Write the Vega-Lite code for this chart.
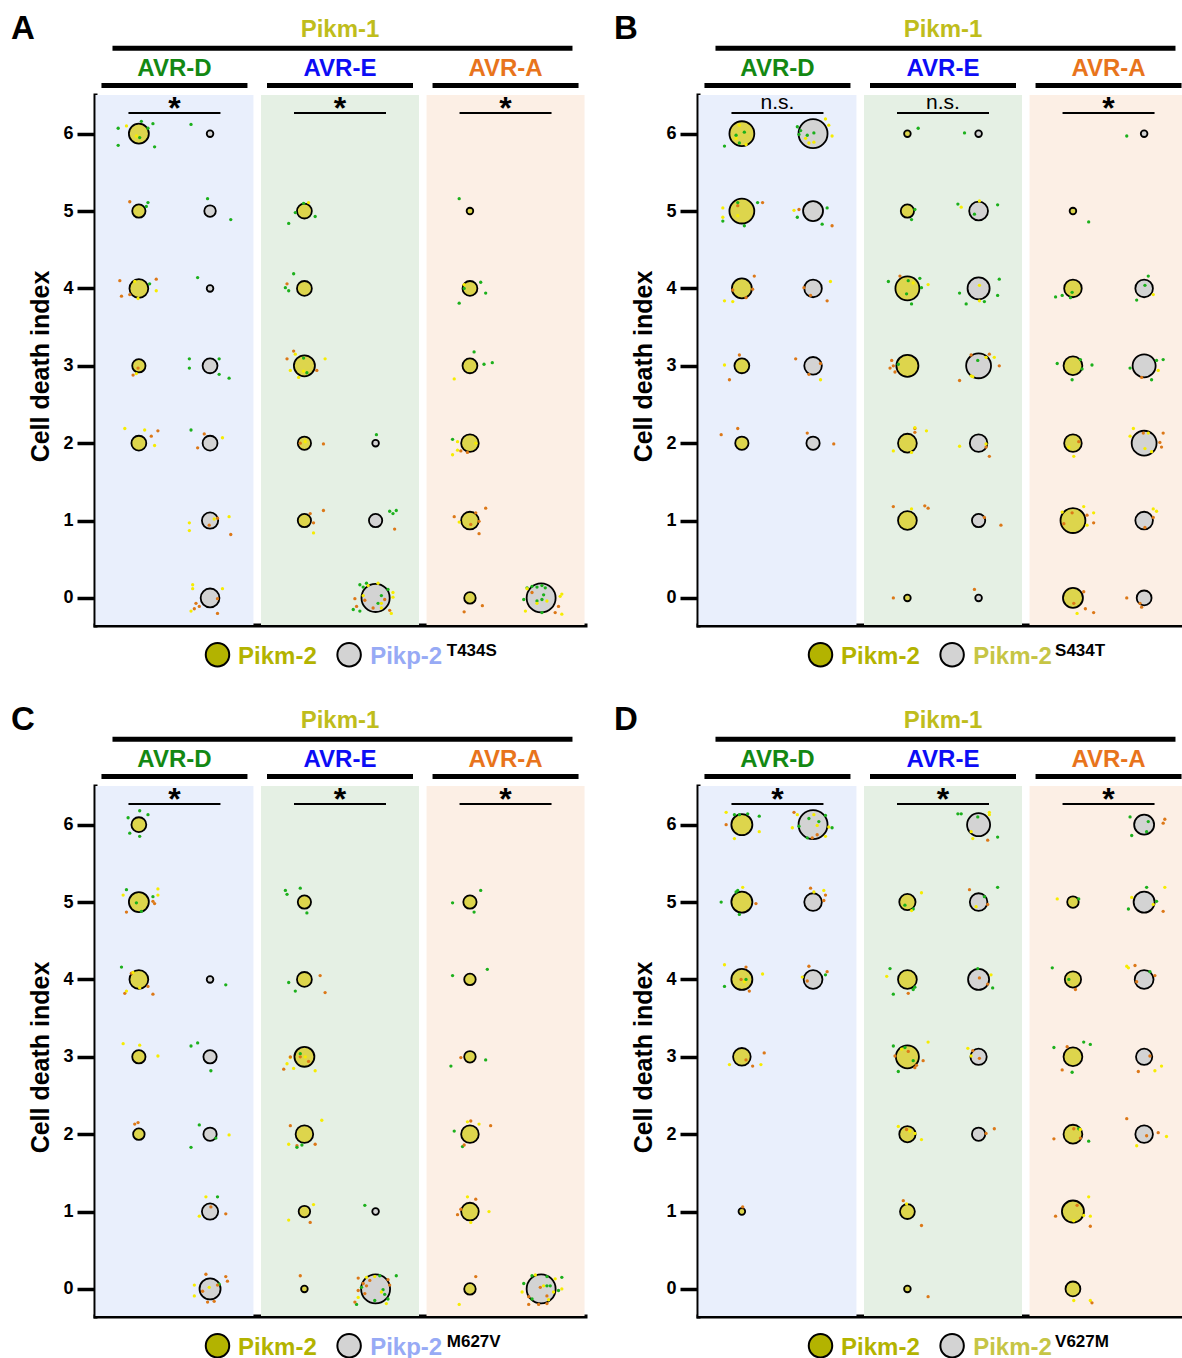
{
"$schema":"https://vega.github.io/schema/vega-lite/v6.json",
"padding":{"left":10,"top":11,"right":0,"bottom":0},
"data":{"values":[
{"k":"A","e":"AVR-D","g":1,"sig":"*","alt":"Pikp-2","mut":"T434S"},{"k":"A","e":"AVR-E","g":2,"sig":"*"},{"k":"A","e":"AVR-A","g":3,"sig":"*"},
{"k":"B","e":"AVR-D","g":1,"sig":"n.s.","alt":"Pikm-2","mut":"S434T"},{"k":"B","e":"AVR-E","g":2,"sig":"n.s."},{"k":"B","e":"AVR-A","g":3,"sig":"*"},
{"k":"C","e":"AVR-D","g":1,"sig":"*","alt":"Pikp-2","mut":"M627V"},{"k":"C","e":"AVR-E","g":2,"sig":"*"},{"k":"C","e":"AVR-A","g":3,"sig":"*"},
{"k":"D","e":"AVR-D","g":1,"sig":"*","alt":"Pikm-2","mut":"V627M"},{"k":"D","e":"AVR-E","g":2,"sig":"*"},{"k":"D","e":"AVR-A","g":3,"sig":"*"},
{"k":"A","x":0.785,"s":6,"n":9,"a":"m"},{"k":"A","x":0.785,"s":5,"n":4,"a":"m"},{"k":"A","x":0.785,"s":4,"n":8,"a":"m"},{"k":"A","x":0.785,"s":3,"n":4,"a":"m"},{"k":"A","x":0.785,"s":2,"n":5,"a":"m"},
{"k":"A","x":1.215,"s":6,"n":1,"a":"p"},{"k":"A","x":1.215,"s":5,"n":3,"a":"p"},{"k":"A","x":1.215,"s":4,"n":1,"a":"p"},{"k":"A","x":1.215,"s":3,"n":5,"a":"p"},{"k":"A","x":1.215,"s":2,"n":5,"a":"p"},{"k":"A","x":1.215,"s":1,"n":6,"a":"p"},{"k":"A","x":1.215,"s":0,"n":8,"a":"p"},
{"k":"A","x":1.785,"s":5,"n":5,"a":"m"},{"k":"A","x":1.785,"s":4,"n":5,"a":"m"},{"k":"A","x":1.785,"s":3,"n":10,"a":"m"},{"k":"A","x":1.785,"s":2,"n":4,"a":"m"},{"k":"A","x":1.785,"s":1,"n":4,"a":"m"},
{"k":"A","x":2.215,"s":2,"n":1,"a":"p"},{"k":"A","x":2.215,"s":1,"n":4,"a":"p"},{"k":"A","x":2.215,"s":0,"n":18,"a":"p"},
{"k":"A","x":2.785,"s":5,"n":1,"a":"m"},{"k":"A","x":2.785,"s":4,"n":5,"a":"m"},{"k":"A","x":2.785,"s":3,"n":5,"a":"m"},{"k":"A","x":2.785,"s":2,"n":7,"a":"m"},{"k":"A","x":2.785,"s":1,"n":7,"a":"m"},{"k":"A","x":2.785,"s":0,"n":3,"a":"m"},
{"k":"A","x":3.215,"s":0,"n":19,"a":"p"},
{"k":"B","x":0.785,"s":6,"n":14,"a":"m"},{"k":"B","x":0.785,"s":5,"n":14,"a":"m"},{"k":"B","x":0.785,"s":4,"n":9,"a":"m"},{"k":"B","x":0.785,"s":3,"n":5,"a":"m"},{"k":"B","x":0.785,"s":2,"n":4,"a":"m"},
{"k":"B","x":1.215,"s":6,"n":19,"a":"p"},{"k":"B","x":1.215,"s":5,"n":9,"a":"p"},{"k":"B","x":1.215,"s":4,"n":7,"a":"p"},{"k":"B","x":1.215,"s":3,"n":7,"a":"p"},{"k":"B","x":1.215,"s":2,"n":4,"a":"p"},
{"k":"B","x":1.785,"s":6,"n":1,"a":"m"},{"k":"B","x":1.785,"s":5,"n":4,"a":"m"},{"k":"B","x":1.785,"s":4,"n":13,"a":"m"},{"k":"B","x":1.785,"s":3,"n":11,"a":"m"},{"k":"B","x":1.785,"s":2,"n":8,"a":"m"},{"k":"B","x":1.785,"s":1,"n":8,"a":"m"},{"k":"B","x":1.785,"s":0,"n":1,"a":"m"},
{"k":"B","x":2.215,"s":6,"n":1,"a":"p"},{"k":"B","x":2.215,"s":5,"n":8,"a":"p"},{"k":"B","x":2.215,"s":4,"n":11,"a":"p"},{"k":"B","x":2.215,"s":3,"n":14,"a":"p"},{"k":"B","x":2.215,"s":2,"n":7,"a":"p"},{"k":"B","x":2.215,"s":1,"n":4,"a":"p"},{"k":"B","x":2.215,"s":0,"n":1,"a":"p"},
{"k":"B","x":2.785,"s":5,"n":1,"a":"m"},{"k":"B","x":2.785,"s":4,"n":7,"a":"m"},{"k":"B","x":2.785,"s":3,"n":8,"a":"m"},{"k":"B","x":2.785,"s":2,"n":7,"a":"m"},{"k":"B","x":2.785,"s":1,"n":14,"a":"m"},{"k":"B","x":2.785,"s":0,"n":9,"a":"m"},
{"k":"B","x":3.215,"s":6,"n":1,"a":"p"},{"k":"B","x":3.215,"s":4,"n":7,"a":"p"},{"k":"B","x":3.215,"s":3,"n":12,"a":"p"},{"k":"B","x":3.215,"s":2,"n":14,"a":"p"},{"k":"B","x":3.215,"s":1,"n":7,"a":"p"},{"k":"B","x":3.215,"s":0,"n":5,"a":"p"},
{"k":"C","x":0.785,"s":6,"n":5,"a":"m"},{"k":"C","x":0.785,"s":5,"n":9,"a":"m"},{"k":"C","x":0.785,"s":4,"n":8,"a":"m"},{"k":"C","x":0.785,"s":3,"n":4,"a":"m"},{"k":"C","x":0.785,"s":2,"n":3,"a":"m"},
{"k":"C","x":1.215,"s":4,"n":1,"a":"p"},{"k":"C","x":1.215,"s":3,"n":4,"a":"p"},{"k":"C","x":1.215,"s":2,"n":4,"a":"p"},{"k":"C","x":1.215,"s":1,"n":6,"a":"p"},{"k":"C","x":1.215,"s":0,"n":10,"a":"p"},
{"k":"C","x":1.785,"s":5,"n":4,"a":"m"},{"k":"C","x":1.785,"s":4,"n":5,"a":"m"},{"k":"C","x":1.785,"s":3,"n":9,"a":"m"},{"k":"C","x":1.785,"s":2,"n":7,"a":"m"},{"k":"C","x":1.785,"s":1,"n":3,"a":"m"},{"k":"C","x":1.785,"s":0,"n":1,"a":"m"},
{"k":"C","x":2.215,"s":1,"n":1,"a":"p"},{"k":"C","x":2.215,"s":0,"n":19,"a":"p"},
{"k":"C","x":2.785,"s":5,"n":4,"a":"m"},{"k":"C","x":2.785,"s":4,"n":3,"a":"m"},{"k":"C","x":2.785,"s":3,"n":3,"a":"m"},{"k":"C","x":2.785,"s":2,"n":7,"a":"m"},{"k":"C","x":2.785,"s":1,"n":7,"a":"m"},{"k":"C","x":2.785,"s":0,"n":3,"a":"m"},
{"k":"C","x":3.215,"s":0,"n":19,"a":"p"},
{"k":"D","x":0.785,"s":6,"n":10,"a":"m"},{"k":"D","x":0.785,"s":5,"n":10,"a":"m"},{"k":"D","x":0.785,"s":4,"n":10,"a":"m"},{"k":"D","x":0.785,"s":3,"n":7,"a":"m"},{"k":"D","x":0.785,"s":1,"n":1,"a":"m"},
{"k":"D","x":1.215,"s":6,"n":19,"a":"p"},{"k":"D","x":1.215,"s":5,"n":7,"a":"p"},{"k":"D","x":1.215,"s":4,"n":8,"a":"p"},
{"k":"D","x":1.785,"s":5,"n":6,"a":"m"},{"k":"D","x":1.785,"s":4,"n":8,"a":"m"},{"k":"D","x":1.785,"s":3,"n":12,"a":"m"},{"k":"D","x":1.785,"s":2,"n":6,"a":"m"},{"k":"D","x":1.785,"s":1,"n":5,"a":"m"},{"k":"D","x":1.785,"s":0,"n":1,"a":"m"},
{"k":"D","x":2.215,"s":6,"n":12,"a":"p"},{"k":"D","x":2.215,"s":5,"n":7,"a":"p"},{"k":"D","x":2.215,"s":4,"n":10,"a":"p"},{"k":"D","x":2.215,"s":3,"n":6,"a":"p"},{"k":"D","x":2.215,"s":2,"n":4,"a":"p"},
{"k":"D","x":2.785,"s":5,"n":3,"a":"m"},{"k":"D","x":2.785,"s":4,"n":6,"a":"m"},{"k":"D","x":2.785,"s":3,"n":8,"a":"m"},{"k":"D","x":2.785,"s":2,"n":8,"a":"m"},{"k":"D","x":2.785,"s":1,"n":11,"a":"m"},{"k":"D","x":2.785,"s":0,"n":5,"a":"m"},
{"k":"D","x":3.215,"s":6,"n":9,"a":"p"},{"k":"D","x":3.215,"s":5,"n":10,"a":"p"},{"k":"D","x":3.215,"s":4,"n":8,"a":"p"},{"k":"D","x":3.215,"s":3,"n":6,"a":"p"},{"k":"D","x":3.215,"s":2,"n":7,"a":"p"},
{"k":"A","x":0.66,"y":6.07,"r":1},{"k":"A","x":0.71,"y":6.10,"r":2},{"k":"A","x":0.80,"y":6.16,"r":1},{"k":"A","x":0.87,"y":6.13,"r":1},{"k":"A","x":0.84,"y":6.07,"r":1},{"k":"A","x":0.66,"y":5.85,"r":1},{"k":"A","x":0.88,"y":5.83,"r":1},{"k":"A","x":0.77,"y":5.97,"r":2},{"k":"A","x":0.79,"y":5.95,"r":1},
{"k":"A","x":1.10,"y":6.12,"r":1},
{"k":"A","x":0.73,"y":5.12,"r":3},{"k":"A","x":0.84,"y":5.11,"r":1},{"k":"A","x":0.83,"y":5.06,"r":1},
{"k":"A","x":1.20,"y":5.16,"r":1},{"k":"A","x":1.34,"y":4.89,"r":1},
{"k":"A","x":1.81,"y":5.11,"r":2},{"k":"A","x":1.73,"y":4.98,"r":1},{"k":"A","x":1.85,"y":4.93,"r":1},{"k":"A","x":1.69,"y":4.84,"r":1},{"k":"A","x":1.78,"y":5.10,"r":1},
{"k":"A","x":2.72,"y":5.16,"r":1},
{"k":"A","x":0.67,"y":4.10,"r":3},{"k":"A","x":0.89,"y":4.12,"r":3},{"k":"A","x":0.85,"y":4.06,"r":1},{"k":"A","x":0.89,"y":3.97,"r":2},{"k":"A","x":0.68,"y":3.90,"r":3},{"k":"A","x":0.78,"y":3.87,"r":2},{"k":"A","x":0.76,"y":4.09,"r":2},{"k":"A","x":0.73,"y":3.92,"r":3},
{"k":"A","x":1.14,"y":4.14,"r":1},
{"k":"A","x":1.72,"y":4.19,"r":1},{"k":"A","x":1.68,"y":4.06,"r":3},{"k":"A","x":1.67,"y":4.01,"r":1},{"k":"A","x":1.69,"y":3.97,"r":1},
{"k":"A","x":2.85,"y":4.08,"r":1},{"k":"A","x":2.88,"y":3.94,"r":1},{"k":"A","x":2.72,"y":3.81,"r":1},{"k":"A","x":2.75,"y":4.05,"r":2},{"k":"A","x":2.75,"y":4.00,"r":1},
{"k":"A","x":0.75,"y":2.88,"r":3},{"k":"A","x":0.77,"y":2.90,"r":2},{"k":"A","x":0.78,"y":2.97,"r":3},
{"k":"A","x":1.09,"y":3.09,"r":1},{"k":"A","x":1.09,"y":2.97,"r":1},{"k":"A","x":1.27,"y":3.09,"r":1},{"k":"A","x":1.27,"y":2.89,"r":1},{"k":"A","x":1.33,"y":2.84,"r":1},
{"k":"A","x":1.72,"y":3.19,"r":3},{"k":"A","x":1.73,"y":3.15,"r":2},{"k":"A","x":1.68,"y":3.09,"r":3},{"k":"A","x":1.78,"y":3.10,"r":1},{"k":"A","x":1.91,"y":3.09,"r":2},{"k":"A","x":1.70,"y":2.94,"r":2},{"k":"A","x":1.75,"y":2.85,"r":2},{"k":"A","x":1.80,"y":2.91,"r":1},{"k":"A","x":1.78,"y":2.93,"r":2},{"k":"A","x":1.86,"y":2.94,"r":3},
{"k":"A","x":2.81,"y":3.18,"r":1},{"k":"A","x":2.87,"y":3.02,"r":1},{"k":"A","x":2.92,"y":3.04,"r":1},{"k":"A","x":2.69,"y":2.83,"r":2},
{"k":"A","x":0.70,"y":2.19,"r":2},{"k":"A","x":0.82,"y":2.17,"r":2},{"k":"A","x":0.90,"y":2.16,"r":3},{"k":"A","x":0.86,"y":2.09,"r":3},{"k":"A","x":0.88,"y":1.97,"r":2},
{"k":"A","x":1.10,"y":2.17,"r":1},{"k":"A","x":1.18,"y":2.12,"r":3},{"k":"A","x":1.29,"y":2.07,"r":2},{"k":"A","x":1.14,"y":1.94,"r":3},
{"k":"A","x":1.76,"y":2.00,"r":3},{"k":"A","x":1.79,"y":2.02,"r":2},{"k":"A","x":1.90,"y":1.99,"r":3},
{"k":"A","x":2.22,"y":2.11,"r":1},
{"k":"A","x":2.68,"y":2.05,"r":1},{"k":"A","x":2.71,"y":2.02,"r":2},{"k":"A","x":2.71,"y":1.91,"r":2},{"k":"A","x":2.73,"y":1.90,"r":3},{"k":"A","x":2.77,"y":1.88,"r":3},{"k":"A","x":2.68,"y":1.85,"r":2},{"k":"A","x":2.82,"y":2.00,"r":2},
{"k":"A","x":1.09,"y":0.97,"r":2},{"k":"A","x":1.09,"y":0.87,"r":2},{"k":"A","x":1.33,"y":1.05,"r":2},{"k":"A","x":1.34,"y":0.82,"r":3},{"k":"A","x":1.26,"y":1.03,"r":3},{"k":"A","x":1.21,"y":0.94,"r":3},{"k":"A","x":1.24,"y":1.02,"r":2},
{"k":"A","x":1.90,"y":1.13,"r":3},{"k":"A","x":1.82,"y":1.09,"r":3},{"k":"A","x":1.84,"y":0.97,"r":3},{"k":"A","x":1.84,"y":0.84,"r":2},
{"k":"A","x":2.30,"y":1.12,"r":1},{"k":"A","x":2.32,"y":1.09,"r":1},{"k":"A","x":2.34,"y":1.13,"r":1},{"k":"A","x":2.33,"y":0.89,"r":3},
{"k":"A","x":2.88,"y":1.16,"r":3},{"k":"A","x":2.69,"y":1.05,"r":3},{"k":"A","x":2.82,"y":1.10,"r":3},{"k":"A","x":2.72,"y":0.98,"r":2},{"k":"A","x":2.79,"y":0.95,"r":3},{"k":"A","x":2.84,"y":0.83,"r":3},{"k":"A","x":2.84,"y":0.99,"r":3},
{"k":"A","x":1.11,"y":0.17,"r":2},{"k":"A","x":1.11,"y":0.12,"r":2},{"k":"A","x":1.29,"y":0.12,"r":2},{"k":"A","x":1.26,"y":-0.01,"r":3},{"k":"A","x":1.15,"y":-0.11,"r":3},{"k":"A","x":1.12,"y":-0.14,"r":3},{"k":"A","x":1.10,"y":-0.17,"r":2},{"k":"A","x":1.26,"y":-0.20,"r":3},{"k":"A","x":1.13,"y":-0.07,"r":3},
{"k":"A","x":2.12,"y":0.17,"r":1},{"k":"A","x":2.16,"y":0.19,"r":1},{"k":"A","x":2.17,"y":0.16,"r":2},{"k":"A","x":2.14,"y":0.14,"r":1},{"k":"A","x":2.23,"y":0.19,"r":2},{"k":"A","x":2.09,"y":-0.01,"r":3},{"k":"A","x":2.08,"y":-0.15,"r":1},{"k":"A","x":2.12,"y":-0.17,"r":1},{"k":"A","x":2.14,"y":0.03,"r":2},{"k":"A","x":2.23,"y":-0.07,"r":1},{"k":"A","x":2.25,"y":0.03,"r":1},{"k":"A","x":2.32,"y":0.07,"r":2},{"k":"A","x":2.32,"y":0.01,"r":2},{"k":"A","x":2.31,"y":-0.20,"r":2},{"k":"A","x":2.20,"y":-0.13,"r":3},{"k":"A","x":2.27,"y":-0.02,"r":3},{"k":"A","x":2.25,"y":-0.07,"r":2},{"k":"A","x":2.10,"y":-0.11,"r":3},{"k":"A","x":2.15,"y":-0.03,"r":3},{"k":"A","x":2.25,"y":-0.13,"r":2},{"k":"A","x":2.29,"y":0.11,"r":1},{"k":"A","x":2.30,"y":-0.16,"r":3},
{"k":"A","x":2.86,"y":-0.10,"r":3},{"k":"A","x":2.75,"y":-0.18,"r":3},
{"k":"A","x":3.13,"y":0.13,"r":1},{"k":"A","x":3.16,"y":0.15,"r":1},{"k":"A","x":3.19,"y":0.14,"r":1},{"k":"A","x":3.22,"y":0.16,"r":1},{"k":"A","x":3.24,"y":0.13,"r":1},{"k":"A","x":3.23,"y":0.04,"r":1},{"k":"A","x":3.22,"y":-0.02,"r":1},{"k":"A","x":3.19,"y":-0.04,"r":1},{"k":"A","x":3.11,"y":-0.02,"r":1},{"k":"A","x":3.13,"y":0.12,"r":2},{"k":"A","x":3.34,"y":0.05,"r":2},{"k":"A","x":3.33,"y":0.02,"r":2},{"k":"A","x":3.12,"y":-0.17,"r":2},{"k":"A","x":3.19,"y":-0.07,"r":2},{"k":"A","x":3.16,"y":0.07,"r":3},{"k":"A","x":3.32,"y":-0.11,"r":3},{"k":"A","x":3.30,"y":-0.19,"r":3},{"k":"A","x":3.34,"y":-0.21,"r":2},{"k":"A","x":3.22,"y":-0.19,"r":1},{"k":"A","x":3.25,"y":-0.04,"r":2},
{"k":"B","x":0.68,"y":5.84,"r":1},{"k":"B","x":0.77,"y":6.11,"r":2},{"k":"B","x":0.80,"y":6.02,"r":1},{"k":"B","x":0.75,"y":5.98,"r":1},{"k":"B","x":0.77,"y":5.88,"r":1},{"k":"B","x":0.81,"y":5.86,"r":2},{"k":"B","x":0.75,"y":5.94,"r":2},
{"k":"B","x":1.12,"y":6.09,"r":1},{"k":"B","x":1.14,"y":6.04,"r":1},{"k":"B","x":1.29,"y":6.19,"r":2},{"k":"B","x":1.31,"y":6.11,"r":2},{"k":"B","x":1.33,"y":5.97,"r":2},{"k":"B","x":1.22,"y":6.01,"r":1},{"k":"B","x":1.18,"y":5.98,"r":1},{"k":"B","x":1.17,"y":5.94,"r":2},{"k":"B","x":1.19,"y":5.88,"r":2},{"k":"B","x":1.22,"y":5.89,"r":2},{"k":"B","x":1.13,"y":5.99,"r":1},
{"k":"B","x":1.85,"y":6.07,"r":1},{"k":"B","x":2.13,"y":6.01,"r":1},{"k":"B","x":3.11,"y":5.97,"r":1},
{"k":"B","x":0.67,"y":5.04,"r":2},{"k":"B","x":0.67,"y":4.92,"r":2},{"k":"B","x":0.67,"y":4.87,"r":1},{"k":"B","x":0.76,"y":5.07,"r":3},{"k":"B","x":0.76,"y":5.11,"r":1},{"k":"B","x":0.88,"y":5.11,"r":1},{"k":"B","x":0.91,"y":5.11,"r":3},{"k":"B","x":0.76,"y":4.94,"r":2},{"k":"B","x":0.80,"y":4.81,"r":1},
{"k":"B","x":1.10,"y":5.01,"r":2},{"k":"B","x":1.13,"y":5.02,"r":3},{"k":"B","x":1.12,"y":4.92,"r":1},{"k":"B","x":1.30,"y":5.04,"r":1},{"k":"B","x":1.27,"y":4.83,"r":1},{"k":"B","x":1.33,"y":4.81,"r":3},
{"k":"B","x":1.83,"y":5.02,"r":1},{"k":"B","x":1.81,"y":4.89,"r":1},
{"k":"B","x":2.09,"y":5.09,"r":1},{"k":"B","x":2.11,"y":5.05,"r":2},{"k":"B","x":2.19,"y":4.96,"r":1},{"k":"B","x":2.22,"y":5.13,"r":2},{"k":"B","x":2.33,"y":5.08,"r":1},
{"k":"B","x":2.88,"y":4.86,"r":1},
{"k":"B","x":0.86,"y":4.16,"r":3},{"k":"B","x":0.73,"y":3.98,"r":3},{"k":"B","x":0.85,"y":3.99,"r":3},{"k":"B","x":0.68,"y":3.84,"r":2},{"k":"B","x":0.73,"y":3.83,"r":2},{"k":"B","x":0.81,"y":3.88,"r":3},
{"k":"B","x":1.16,"y":4.01,"r":3},{"k":"B","x":1.20,"y":3.91,"r":3},{"k":"B","x":1.32,"y":4.09,"r":2},{"k":"B","x":1.30,"y":3.84,"r":3},
{"k":"B","x":1.67,"y":4.09,"r":1},{"k":"B","x":1.74,"y":4.16,"r":3},{"k":"B","x":1.79,"y":4.10,"r":1},{"k":"B","x":1.82,"y":4.07,"r":2},{"k":"B","x":1.86,"y":4.13,"r":1},{"k":"B","x":1.91,"y":4.05,"r":2},{"k":"B","x":1.87,"y":4.01,"r":1},{"k":"B","x":1.78,"y":3.93,"r":1},{"k":"B","x":1.81,"y":3.80,"r":1},
{"k":"B","x":2.22,"y":4.04,"r":2},{"k":"B","x":2.34,"y":4.12,"r":1},{"k":"B","x":2.10,"y":3.94,"r":1},{"k":"B","x":2.14,"y":3.80,"r":1},{"k":"B","x":2.22,"y":3.84,"r":2},{"k":"B","x":2.25,"y":3.83,"r":1},{"k":"B","x":2.33,"y":3.91,"r":1},
{"k":"B","x":2.68,"y":3.89,"r":1},{"k":"B","x":2.72,"y":3.91,"r":1},{"k":"B","x":2.78,"y":3.95,"r":1},{"k":"B","x":2.77,"y":3.88,"r":1},
{"k":"B","x":3.24,"y":4.16,"r":1},{"k":"B","x":3.22,"y":4.04,"r":1},{"k":"B","x":3.27,"y":3.92,"r":2},{"k":"B","x":3.17,"y":3.85,"r":1},
{"k":"B","x":0.77,"y":3.14,"r":3},{"k":"B","x":0.68,"y":3.01,"r":2},{"k":"B","x":0.71,"y":2.82,"r":3},
{"k":"B","x":1.11,"y":3.09,"r":3},{"k":"B","x":1.26,"y":3.03,"r":3},{"k":"B","x":1.19,"y":2.89,"r":3},{"k":"B","x":1.26,"y":2.82,"r":2},
{"k":"B","x":1.69,"y":3.07,"r":3},{"k":"B","x":1.68,"y":2.97,"r":3},{"k":"B","x":1.71,"y":2.92,"r":3},{"k":"B","x":1.73,"y":3.02,"r":1},{"k":"B","x":1.70,"y":3.00,"r":3},
{"k":"B","x":2.17,"y":3.14,"r":3},{"k":"B","x":2.26,"y":3.11,"r":2},{"k":"B","x":2.28,"y":3.15,"r":3},{"k":"B","x":2.31,"y":3.11,"r":2},{"k":"B","x":2.21,"y":3.07,"r":1},{"k":"B","x":2.34,"y":3.00,"r":3},{"k":"B","x":2.17,"y":2.87,"r":2},{"k":"B","x":2.18,"y":2.86,"r":2},{"k":"B","x":2.10,"y":2.81,"r":3},
{"k":"B","x":2.69,"y":3.03,"r":1},{"k":"B","x":2.83,"y":3.08,"r":1},{"k":"B","x":2.90,"y":3.01,"r":1},{"k":"B","x":2.84,"y":2.96,"r":1},{"k":"B","x":2.78,"y":2.82,"r":1},
{"k":"B","x":3.13,"y":2.97,"r":1},{"k":"B","x":3.29,"y":3.07,"r":1},{"k":"B","x":3.33,"y":3.08,"r":1},{"k":"B","x":3.30,"y":2.94,"r":2},{"k":"B","x":3.20,"y":2.85,"r":3},{"k":"B","x":3.26,"y":2.82,"r":1},
{"k":"B","x":0.66,"y":2.11,"r":3},{"k":"B","x":0.76,"y":2.19,"r":3},
{"k":"B","x":1.18,"y":2.13,"r":3},{"k":"B","x":1.34,"y":1.99,"r":3},
{"k":"B","x":1.83,"y":2.19,"r":3},{"k":"B","x":1.83,"y":2.20,"r":2},{"k":"B","x":1.90,"y":2.16,"r":2},{"k":"B","x":1.83,"y":2.14,"r":3},{"k":"B","x":1.70,"y":1.90,"r":2},{"k":"B","x":1.81,"y":1.88,"r":2},
{"k":"B","x":2.10,"y":1.96,"r":2},{"k":"B","x":2.26,"y":1.95,"r":3},{"k":"B","x":2.26,"y":1.99,"r":2},{"k":"B","x":2.28,"y":1.83,"r":3},
{"k":"B","x":2.82,"y":2.02,"r":3},{"k":"B","x":2.76,"y":1.95,"r":2},{"k":"B","x":2.79,"y":1.83,"r":2},
{"k":"B","x":3.13,"y":2.09,"r":2},{"k":"B","x":3.15,"y":2.19,"r":2},{"k":"B","x":3.21,"y":2.13,"r":3},{"k":"B","x":3.24,"y":2.13,"r":2},{"k":"B","x":3.33,"y":2.13,"r":3},{"k":"B","x":3.31,"y":2.01,"r":3},{"k":"B","x":3.32,"y":1.95,"r":3},{"k":"B","x":3.22,"y":1.93,"r":2},{"k":"B","x":3.26,"y":1.89,"r":2},
{"k":"B","x":1.70,"y":1.18,"r":3},{"k":"B","x":1.81,"y":1.15,"r":2},{"k":"B","x":1.89,"y":1.19,"r":3},{"k":"B","x":1.91,"y":1.16,"r":3},
{"k":"B","x":2.25,"y":1.04,"r":3},{"k":"B","x":2.35,"y":0.94,"r":3},
{"k":"B","x":2.72,"y":1.11,"r":2},{"k":"B","x":2.85,"y":1.18,"r":2},{"k":"B","x":2.91,"y":1.10,"r":2},{"k":"B","x":2.87,"y":1.07,"r":3},{"k":"B","x":2.91,"y":0.97,"r":3},{"k":"B","x":2.73,"y":0.96,"r":3},{"k":"B","x":2.87,"y":0.94,"r":2},{"k":"B","x":2.78,"y":1.10,"r":3},
{"k":"B","x":3.27,"y":1.15,"r":2},{"k":"B","x":3.29,"y":1.12,"r":2},{"k":"B","x":3.27,"y":1.04,"r":3},{"k":"B","x":3.22,"y":0.91,"r":3},
{"k":"B","x":1.70,"y":0.00,"r":3},{"k":"B","x":2.19,"y":0.11,"r":3},
{"k":"B","x":2.85,"y":0.08,"r":3},{"k":"B","x":2.79,"y":-0.07,"r":3},{"k":"B","x":2.81,"y":-0.20,"r":2},{"k":"B","x":2.86,"y":-0.14,"r":3},{"k":"B","x":2.91,"y":-0.19,"r":3},
{"k":"B","x":3.11,"y":0.00,"r":3},{"k":"B","x":3.20,"y":-0.12,"r":3},{"k":"B","x":3.19,"y":-0.07,"r":3},
{"k":"C","x":0.79,"y":6.18,"r":1},{"k":"C","x":0.84,"y":6.13,"r":1},{"k":"C","x":0.72,"y":6.09,"r":1},{"k":"C","x":0.73,"y":5.89,"r":1},{"k":"C","x":0.79,"y":5.85,"r":1},
{"k":"C","x":0.71,"y":5.16,"r":1},{"k":"C","x":0.69,"y":5.09,"r":2},{"k":"C","x":0.90,"y":5.17,"r":2},{"k":"C","x":0.90,"y":5.09,"r":2},{"k":"C","x":0.87,"y":5.07,"r":1},{"k":"C","x":0.88,"y":4.98,"r":3},{"k":"C","x":0.77,"y":4.99,"r":1},{"k":"C","x":0.80,"y":4.88,"r":1},{"k":"C","x":0.71,"y":4.87,"r":3},{"k":"C","x":0.87,"y":5.01,"r":3},
{"k":"C","x":1.67,"y":5.15,"r":1},{"k":"C","x":1.68,"y":5.10,"r":1},{"k":"C","x":1.76,"y":5.18,"r":1},{"k":"C","x":1.80,"y":4.86,"r":1},
{"k":"C","x":2.85,"y":5.15,"r":1},{"k":"C","x":2.68,"y":4.99,"r":1},{"k":"C","x":2.81,"y":4.87,"r":1},
{"k":"C","x":0.68,"y":4.16,"r":1},{"k":"C","x":0.74,"y":4.08,"r":3},{"k":"C","x":0.75,"y":4.09,"r":2},{"k":"C","x":0.84,"y":3.91,"r":3},{"k":"C","x":0.70,"y":3.82,"r":3},{"k":"C","x":0.71,"y":3.85,"r":2},{"k":"C","x":0.87,"y":3.81,"r":3},{"k":"C","x":0.79,"y":3.89,"r":2},
{"k":"C","x":1.31,"y":3.93,"r":1},
{"k":"C","x":1.88,"y":4.05,"r":3},{"k":"C","x":1.91,"y":3.83,"r":3},{"k":"C","x":1.69,"y":3.96,"r":1},{"k":"C","x":1.73,"y":3.85,"r":1},
{"k":"C","x":2.68,"y":4.05,"r":1},{"k":"C","x":2.89,"y":4.13,"r":1},
{"k":"C","x":0.69,"y":3.17,"r":2},{"k":"C","x":0.79,"y":3.15,"r":2},{"k":"C","x":0.90,"y":3.01,"r":2},
{"k":"C","x":1.10,"y":3.14,"r":1},{"k":"C","x":1.14,"y":3.18,"r":1},{"k":"C","x":1.22,"y":2.82,"r":1},
{"k":"C","x":1.76,"y":3.04,"r":1},{"k":"C","x":1.70,"y":2.99,"r":2},{"k":"C","x":1.70,"y":3.00,"r":3},{"k":"C","x":1.68,"y":2.91,"r":2},{"k":"C","x":1.66,"y":2.84,"r":3},{"k":"C","x":1.72,"y":2.85,"r":2},{"k":"C","x":1.85,"y":2.82,"r":2},{"k":"C","x":1.81,"y":2.94,"r":3},{"k":"C","x":1.79,"y":3.00,"r":2},{"k":"C","x":1.76,"y":3.00,"r":3},
{"k":"C","x":2.73,"y":2.99,"r":3},{"k":"C","x":2.67,"y":2.88,"r":1},{"k":"C","x":2.88,"y":2.96,"r":1},
{"k":"C","x":0.76,"y":2.13,"r":3},{"k":"C","x":0.78,"y":2.15,"r":3},
{"k":"C","x":1.15,"y":2.12,"r":1},{"k":"C","x":1.10,"y":1.83,"r":1},{"k":"C","x":1.25,"y":1.95,"r":1},{"k":"C","x":1.33,"y":1.99,"r":2},
{"k":"C","x":1.70,"y":2.11,"r":3},{"k":"C","x":1.89,"y":2.18,"r":2},{"k":"C","x":1.69,"y":1.87,"r":2},{"k":"C","x":1.74,"y":1.85,"r":3},{"k":"C","x":1.74,"y":1.83,"r":1},{"k":"C","x":1.77,"y":1.86,"r":1},{"k":"C","x":1.85,"y":1.87,"r":3},
{"k":"C","x":2.77,"y":2.16,"r":2},{"k":"C","x":2.79,"y":2.17,"r":3},{"k":"C","x":2.84,"y":2.13,"r":2},{"k":"C","x":2.91,"y":2.11,"r":3},{"k":"C","x":2.69,"y":2.04,"r":1},{"k":"C","x":2.74,"y":1.84,"r":1},{"k":"C","x":2.75,"y":1.86,"r":3},
{"k":"C","x":1.19,"y":1.19,"r":2},{"k":"C","x":1.26,"y":1.19,"r":1},{"k":"C","x":1.22,"y":1.06,"r":3},{"k":"C","x":1.15,"y":0.94,"r":2},{"k":"C","x":1.31,"y":0.97,"r":3},
{"k":"C","x":1.84,"y":1.09,"r":2},{"k":"C","x":1.69,"y":0.89,"r":2},{"k":"C","x":1.82,"y":0.86,"r":3},
{"k":"C","x":2.15,"y":1.08,"r":1},
{"k":"C","x":2.77,"y":1.19,"r":2},{"k":"C","x":2.82,"y":1.16,"r":3},{"k":"C","x":2.73,"y":1.03,"r":3},{"k":"C","x":2.71,"y":0.96,"r":3},{"k":"C","x":2.90,"y":1.00,"r":2},{"k":"C","x":2.79,"y":0.86,"r":2},
{"k":"C","x":1.19,"y":0.19,"r":3},{"k":"C","x":1.31,"y":0.16,"r":3},{"k":"C","x":1.32,"y":0.10,"r":3},{"k":"C","x":1.12,"y":0.05,"r":2},{"k":"C","x":1.12,"y":-0.09,"r":2},{"k":"C","x":1.17,"y":-0.03,"r":3},{"k":"C","x":1.27,"y":0.06,"r":1},{"k":"C","x":1.26,"y":0.05,"r":3},{"k":"C","x":1.20,"y":-0.17,"r":3},{"k":"C","x":1.21,"y":0.02,"r":2},{"k":"C","x":1.24,"y":-0.16,"r":3},
{"k":"C","x":1.76,"y":0.17,"r":3},
{"k":"C","x":2.11,"y":0.14,"r":3},{"k":"C","x":2.14,"y":0.07,"r":3},{"k":"C","x":2.16,"y":0.15,"r":2},{"k":"C","x":2.18,"y":0.11,"r":3},{"k":"C","x":2.21,"y":0.16,"r":2},{"k":"C","x":2.24,"y":0.17,"r":1},{"k":"C","x":2.34,"y":0.17,"r":1},{"k":"C","x":2.29,"y":0.12,"r":3},{"k":"C","x":2.30,"y":0.05,"r":3},{"k":"C","x":2.26,"y":-0.01,"r":1},{"k":"C","x":2.25,"y":-0.04,"r":2},{"k":"C","x":2.27,"y":-0.07,"r":1},{"k":"C","x":2.11,"y":-0.02,"r":3},{"k":"C","x":2.11,"y":-0.11,"r":2},{"k":"C","x":2.10,"y":-0.20,"r":1},{"k":"C","x":2.09,"y":-0.17,"r":3},{"k":"C","x":2.21,"y":-0.15,"r":1},{"k":"C","x":2.15,"y":-0.06,"r":3},{"k":"C","x":2.28,"y":-0.19,"r":2},{"k":"C","x":2.29,"y":-0.13,"r":1},{"k":"C","x":2.16,"y":0.04,"r":3},{"k":"C","x":2.13,"y":0.02,"r":1},
{"k":"C","x":2.82,"y":0.16,"r":3},{"k":"C","x":2.72,"y":-0.20,"r":2},
{"k":"C","x":3.11,"y":0.07,"r":1},{"k":"C","x":3.16,"y":0.17,"r":1},{"k":"C","x":3.18,"y":0.18,"r":2},{"k":"C","x":3.25,"y":0.16,"r":1},{"k":"C","x":3.34,"y":0.15,"r":1},{"k":"C","x":3.30,"y":0.13,"r":2},{"k":"C","x":3.23,"y":0.04,"r":2},{"k":"C","x":3.21,"y":0.02,"r":3},{"k":"C","x":3.25,"y":0.04,"r":1},{"k":"C","x":3.27,"y":0.04,"r":1},{"k":"C","x":3.34,"y":0.00,"r":2},{"k":"C","x":3.32,"y":-0.02,"r":1},{"k":"C","x":3.10,"y":-0.04,"r":2},{"k":"C","x":3.14,"y":-0.10,"r":3},{"k":"C","x":3.16,"y":-0.13,"r":1},{"k":"C","x":3.14,"y":-0.20,"r":3},{"k":"C","x":3.25,"y":-0.09,"r":3},{"k":"C","x":3.26,"y":-0.14,"r":2},{"k":"C","x":3.20,"y":-0.20,"r":3},{"k":"C","x":3.25,"y":-0.19,"r":3},{"k":"C","x":3.29,"y":-0.04,"r":2},
{"k":"D","x":0.69,"y":6.16,"r":2},{"k":"D","x":0.74,"y":6.13,"r":1},{"k":"D","x":0.77,"y":6.13,"r":1},{"k":"D","x":0.82,"y":6.14,"r":1},{"k":"D","x":0.89,"y":6.11,"r":1},{"k":"D","x":0.69,"y":6.00,"r":3},{"k":"D","x":0.89,"y":5.91,"r":2},{"k":"D","x":0.74,"y":5.82,"r":2},
{"k":"D","x":1.10,"y":6.16,"r":3},{"k":"D","x":1.12,"y":6.13,"r":2},{"k":"D","x":1.22,"y":6.13,"r":2},{"k":"D","x":1.29,"y":6.12,"r":1},{"k":"D","x":1.13,"y":5.98,"r":1},{"k":"D","x":1.09,"y":5.96,"r":2},{"k":"D","x":1.24,"y":5.99,"r":2},{"k":"D","x":1.25,"y":6.04,"r":1},{"k":"D","x":1.31,"y":5.97,"r":2},{"k":"D","x":1.33,"y":5.96,"r":1},{"k":"D","x":1.24,"y":5.87,"r":3},{"k":"D","x":1.21,"y":5.83,"r":3},{"k":"D","x":1.29,"y":5.85,"r":2},{"k":"D","x":1.18,"y":5.83,"r":1},{"k":"D","x":1.19,"y":6.08,"r":1},
{"k":"D","x":2.09,"y":6.14,"r":1},{"k":"D","x":2.11,"y":6.14,"r":1},{"k":"D","x":2.28,"y":6.16,"r":2},{"k":"D","x":2.28,"y":6.13,"r":2},{"k":"D","x":2.21,"y":6.10,"r":1},{"k":"D","x":2.17,"y":5.91,"r":2},{"k":"D","x":2.18,"y":5.82,"r":2},{"k":"D","x":2.27,"y":5.80,"r":3},{"k":"D","x":2.33,"y":5.84,"r":1},
{"k":"D","x":3.13,"y":6.10,"r":1},{"k":"D","x":3.24,"y":6.04,"r":1},{"k":"D","x":3.34,"y":6.07,"r":3},{"k":"D","x":3.33,"y":6.02,"r":3},{"k":"D","x":3.23,"y":5.91,"r":1},{"k":"D","x":3.14,"y":5.86,"r":1},
{"k":"D","x":0.66,"y":5.00,"r":1},{"k":"D","x":0.75,"y":5.13,"r":1},{"k":"D","x":0.79,"y":5.19,"r":2},{"k":"D","x":0.76,"y":5.15,"r":1},{"k":"D","x":0.87,"y":4.98,"r":3},{"k":"D","x":0.77,"y":4.84,"r":1},
{"k":"D","x":1.20,"y":5.18,"r":3},{"k":"D","x":1.22,"y":5.13,"r":2},{"k":"D","x":1.28,"y":5.15,"r":2},{"k":"D","x":1.29,"y":5.09,"r":3},{"k":"D","x":1.28,"y":5.02,"r":3},
{"k":"D","x":1.87,"y":5.12,"r":2},{"k":"D","x":1.77,"y":4.96,"r":1},{"k":"D","x":1.82,"y":4.91,"r":1},{"k":"D","x":1.81,"y":4.89,"r":2},
{"k":"D","x":2.16,"y":5.16,"r":3},{"k":"D","x":2.33,"y":5.19,"r":1},{"k":"D","x":2.25,"y":5.07,"r":1},{"k":"D","x":2.27,"y":4.97,"r":3},{"k":"D","x":2.20,"y":4.94,"r":2},
{"k":"D","x":2.69,"y":5.04,"r":2},{"k":"D","x":2.82,"y":5.04,"r":1},
{"k":"D","x":3.23,"y":5.19,"r":1},{"k":"D","x":3.34,"y":5.19,"r":2},{"k":"D","x":3.14,"y":5.06,"r":2},{"k":"D","x":3.12,"y":4.91,"r":1},{"k":"D","x":3.29,"y":5.01,"r":1},{"k":"D","x":3.27,"y":4.97,"r":2},{"k":"D","x":3.33,"y":4.88,"r":3},
{"k":"D","x":0.68,"y":4.19,"r":2},{"k":"D","x":0.81,"y":4.16,"r":3},{"k":"D","x":0.91,"y":4.07,"r":2},{"k":"D","x":0.68,"y":3.91,"r":1},{"k":"D","x":0.78,"y":4.00,"r":3},{"k":"D","x":0.80,"y":3.97,"r":2},{"k":"D","x":0.81,"y":4.00,"r":1},{"k":"D","x":0.83,"y":3.85,"r":3},
{"k":"D","x":1.19,"y":4.17,"r":3},{"k":"D","x":1.15,"y":4.03,"r":2},{"k":"D","x":1.18,"y":3.98,"r":3},{"k":"D","x":1.30,"y":4.10,"r":3},{"k":"D","x":1.29,"y":4.06,"r":1},
{"k":"D","x":1.68,"y":4.14,"r":1},{"k":"D","x":1.66,"y":4.04,"r":2},{"k":"D","x":1.70,"y":3.81,"r":1},{"k":"D","x":1.79,"y":3.82,"r":3},{"k":"D","x":1.83,"y":3.90,"r":1},{"k":"D","x":1.82,"y":3.87,"r":1},
{"k":"D","x":2.21,"y":4.14,"r":1},{"k":"D","x":2.22,"y":4.02,"r":3},{"k":"D","x":2.29,"y":4.06,"r":2},{"k":"D","x":2.27,"y":3.94,"r":3},{"k":"D","x":2.30,"y":3.89,"r":1},
{"k":"D","x":2.66,"y":4.15,"r":1},{"k":"D","x":2.76,"y":4.00,"r":1},{"k":"D","x":2.80,"y":3.87,"r":3},
{"k":"D","x":3.11,"y":4.17,"r":2},{"k":"D","x":3.12,"y":4.15,"r":2},{"k":"D","x":3.16,"y":4.18,"r":3},{"k":"D","x":3.25,"y":4.10,"r":1},{"k":"D","x":3.28,"y":4.05,"r":3},{"k":"D","x":3.17,"y":3.97,"r":3},
{"k":"D","x":0.92,"y":3.05,"r":3},{"k":"D","x":0.81,"y":2.96,"r":3},{"k":"D","x":0.85,"y":2.88,"r":3},{"k":"D","x":0.90,"y":2.90,"r":2},{"k":"D","x":0.71,"y":2.90,"r":2},
{"k":"D","x":1.70,"y":3.14,"r":1},{"k":"D","x":1.77,"y":3.12,"r":1},{"k":"D","x":1.75,"y":3.10,"r":2},{"k":"D","x":1.79,"y":3.07,"r":3},{"k":"D","x":1.91,"y":3.19,"r":2},{"k":"D","x":1.82,"y":2.95,"r":1},{"k":"D","x":1.88,"y":2.95,"r":3},{"k":"D","x":1.84,"y":2.89,"r":3},{"k":"D","x":1.73,"y":2.81,"r":1},{"k":"D","x":1.71,"y":3.01,"r":3},{"k":"D","x":1.83,"y":2.86,"r":3},
{"k":"D","x":2.15,"y":3.11,"r":2},{"k":"D","x":2.18,"y":3.08,"r":3},{"k":"D","x":2.22,"y":2.98,"r":3},{"k":"D","x":2.17,"y":3.01,"r":2},
{"k":"D","x":2.67,"y":3.12,"r":1},{"k":"D","x":2.75,"y":3.13,"r":3},{"k":"D","x":2.85,"y":3.19,"r":1},{"k":"D","x":2.89,"y":3.16,"r":1},{"k":"D","x":2.72,"y":2.83,"r":3},{"k":"D","x":2.78,"y":2.80,"r":1},
{"k":"D","x":3.25,"y":3.01,"r":3},{"k":"D","x":3.18,"y":2.81,"r":3},{"k":"D","x":3.28,"y":2.82,"r":2},{"k":"D","x":3.32,"y":2.88,"r":2},
{"k":"D","x":1.73,"y":2.10,"r":2},{"k":"D","x":1.80,"y":2.04,"r":2},{"k":"D","x":1.78,"y":2.06,"r":3},{"k":"D","x":1.83,"y":2.01,"r":2},{"k":"D","x":1.87,"y":1.93,"r":2},
{"k":"D","x":2.26,"y":2.01,"r":3},{"k":"D","x":2.31,"y":2.07,"r":3},
{"k":"D","x":2.67,"y":1.94,"r":3},{"k":"D","x":2.79,"y":2.07,"r":3},{"k":"D","x":2.82,"y":2.07,"r":1},{"k":"D","x":2.83,"y":1.95,"r":3},{"k":"D","x":2.88,"y":1.91,"r":1},{"k":"D","x":2.83,"y":2.06,"r":2},
{"k":"D","x":3.11,"y":2.20,"r":3},{"k":"D","x":3.23,"y":1.98,"r":3},{"k":"D","x":3.30,"y":2.02,"r":3},{"k":"D","x":3.35,"y":1.97,"r":2},{"k":"D","x":3.17,"y":1.85,"r":2},
{"k":"D","x":0.79,"y":1.06,"r":3},
{"k":"D","x":1.76,"y":1.14,"r":3},{"k":"D","x":1.87,"y":0.82,"r":3},{"k":"D","x":1.78,"y":1.10,"r":2},
{"k":"D","x":2.88,"y":1.19,"r":2},{"k":"D","x":2.81,"y":1.08,"r":3},{"k":"D","x":2.85,"y":0.95,"r":2},{"k":"D","x":2.89,"y":0.94,"r":2},{"k":"D","x":2.89,"y":0.81,"r":3},{"k":"D","x":2.68,"y":0.94,"r":3},{"k":"D","x":2.79,"y":0.88,"r":2},
{"k":"D","x":1.91,"y":-0.10,"r":3},
{"k":"D","x":2.79,"y":-0.15,"r":2},{"k":"D","x":2.89,"y":-0.15,"r":2},{"k":"D","x":2.90,"y":-0.18,"r":3}
]},
"facet":{"field":"k","type":"nominal","title":null,"header":{"labels":false,"title":null,"labelExpr":"''","labelPadding":0,"labelFontSize":1}},
"columns":2,
"spacing":{"row":31,"column":28},
"resolve":{"scale":{"x":"independent","y":"independent"},"axis":{"x":"independent","y":"independent"}},
"spec":{
"width":490,"height":530,
"resolve":{"scale":{"color":"independent","fill":"independent","size":"independent"}},
"layer":[
{"transform":[{"filter":"datum.e"}],
 "mark":{"type":"tick","orient":"vertical","size":530,"thickness":158,"opacity":1},
 "encoding":{
  "x":{"field":"g","type":"quantitative","scale":{"domain":[0.52,3.48],"nice":false,"zero":false},"axis":{"labels":false,"ticks":false,"title":null,"grid":false}},
  "y":{"datum":3.075,"type":"quantitative"},
  "color":{"field":"e","type":"nominal","scale":{"domain":["AVR-D","AVR-E","AVR-A"],"range":["#e9effc","#e5f0e4","#fcefe5"]},"legend":null}}},
{"transform":[{"filter":"datum.e"}],
 "mark":{"type":"tick","orient":"horizontal","size":146,"thickness":5,"opacity":1,"color":"black"},
 "encoding":{"x":{"field":"g","type":"quantitative"},"y":{"datum":6.623,"type":"quantitative"}}},
{"transform":[{"filter":"datum.e === 'AVR-E'"}],
 "mark":{"type":"tick","orient":"horizontal","size":460,"thickness":5,"opacity":1,"color":"black"},
 "encoding":{"x":{"datum":2.015,"type":"quantitative"},"y":{"datum":7.105,"type":"quantitative"}}},
{"transform":[{"filter":"datum.e"}],
 "mark":{"type":"tick","orient":"horizontal","size":92,"thickness":2,"opacity":1,"color":"black"},
 "encoding":{"x":{"field":"g","type":"quantitative"},"y":{"datum":6.267,"type":"quantitative"}}},
{"transform":[{"filter":"datum.n > 0"}],
 "mark":{"type":"circle","stroke":"black","strokeWidth":1.8,"opacity":1},
 "encoding":{
  "x":{"field":"x","type":"quantitative"},
  "y":{"field":"s","type":"quantitative","scale":{"domain":[-0.35,6.5],"nice":false,"zero":false},"axis":{"values":[0,1,2,3,4,5,6],"format":"d","title":"Cell death index","titlePadding":9,"titleY":271,"grid":false}},
  "size":{"field":"n","type":"quantitative","scale":{"domain":[0,20],"range":[0,884],"zero":true},"legend":null},
  "fill":{"field":"a","type":"nominal","scale":{"domain":["m","p"],"range":["#ddd54c","#d3d3d3"]},"legend":null}}},
{"transform":[{"filter":"datum.r"}],
 "mark":{"type":"circle","size":11,"opacity":1},
 "encoding":{
  "x":{"field":"x","type":"quantitative"},
  "y":{"field":"y","type":"quantitative"},
  "color":{"field":"r","type":"nominal","scale":{"domain":[1,2,3],"range":["#1cb01c","#f6ec00","#dc7818"]},"legend":null}}},
{"transform":[{"filter":"datum.e"}],
 "mark":{"type":"text","font":"Liberation Sans","fontWeight":"bold","fontSize":24,"align":"center","baseline":"alphabetic"},
 "encoding":{"x":{"field":"g","type":"quantitative"},"y":{"datum":6.749,"type":"quantitative"},"text":{"field":"e"},
  "color":{"field":"e","type":"nominal","scale":{"domain":["AVR-D","AVR-E","AVR-A"],"range":["#138813","#0c0cf5","#e8741c"]},"legend":null}}},
{"transform":[{"filter":"datum.e === 'AVR-E'"}],
 "mark":{"type":"text","text":"Pikm-1","font":"Liberation Sans","fontWeight":"bold","fontSize":24,"align":"center","baseline":"alphabetic","color":"#bfbd1c"},
 "encoding":{"x":{"datum":2.0,"type":"quantitative"},"y":{"datum":7.244,"type":"quantitative"}}},
{"transform":[{"filter":"datum.alt"}],
 "mark":{"type":"text","font":"Liberation Sans","fontWeight":"bold","fontSize":33,"align":"left","baseline":"alphabetic","color":"black"},
 "encoding":{"x":{"datum":0.012,"type":"quantitative"},"y":{"datum":7.224,"type":"quantitative"},"text":{"field":"k"}}},
{"transform":[{"filter":"datum.sig === '*'"}],
 "mark":{"type":"text","font":"Liberation Sans","fontWeight":"bold","fontSize":32,"align":"center","baseline":"alphabetic","color":"black"},
 "encoding":{"x":{"field":"g","type":"quantitative"},"y":{"datum":6.19,"type":"quantitative"},"text":{"field":"sig"}}},
{"transform":[{"filter":"datum.sig === 'n.s.'"}],
 "mark":{"type":"text","font":"Liberation Sans","fontWeight":"normal","fontSize":21,"align":"center","baseline":"alphabetic","color":"black"},
 "encoding":{"x":{"field":"g","type":"quantitative"},"y":{"datum":6.319,"type":"quantitative"},"text":{"field":"sig"}}},
{"transform":[{"filter":"datum.alt"}],
 "mark":{"type":"circle","size":551,"fill":"#b3b300","stroke":"black","strokeWidth":2,"opacity":1},
 "encoding":{"x":{"datum":1.26,"type":"quantitative"},"y":{"datum":-0.734,"type":"quantitative"}}},
{"transform":[{"filter":"datum.alt"}],
 "mark":{"type":"circle","size":551,"fill":"#d3d3d3","stroke":"black","strokeWidth":2,"opacity":1},
 "encoding":{"x":{"datum":2.055,"type":"quantitative"},"y":{"datum":-0.734,"type":"quantitative"}}},
{"transform":[{"filter":"datum.alt"}],
 "mark":{"type":"text","text":"Pikm-2","font":"Liberation Sans","fontWeight":"bold","fontSize":24,"align":"left","baseline":"alphabetic","color":"#b3b300"},
 "encoding":{"x":{"datum":1.384,"type":"quantitative"},"y":{"datum":-0.854,"type":"quantitative"}}},
{"transform":[{"filter":"datum.alt"}],
 "mark":{"type":"text","font":"Liberation Sans","fontWeight":"bold","fontSize":24,"align":"left","baseline":"alphabetic"},
 "encoding":{"x":{"datum":2.182,"type":"quantitative"},"y":{"datum":-0.854,"type":"quantitative"},"text":{"field":"alt"},
  "color":{"field":"alt","type":"nominal","scale":{"domain":["Pikp-2","Pikm-2"],"range":["#97aaf5","#c6c545"]},"legend":null}}},
{"transform":[{"filter":"datum.alt === 'Pikp-2'"}],
 "mark":{"type":"text","font":"Liberation Sans","fontWeight":"bold","fontSize":17,"align":"left","baseline":"alphabetic","color":"black"},
 "encoding":{"x":{"datum":2.645,"type":"quantitative"},"y":{"datum":-0.747,"type":"quantitative"},"text":{"field":"mut"}}},
{"transform":[{"filter":"datum.alt === 'Pikm-2'"}],
 "mark":{"type":"text","font":"Liberation Sans","fontWeight":"bold","fontSize":17,"align":"left","baseline":"alphabetic","color":"black"},
 "encoding":{"x":{"datum":2.677,"type":"quantitative"},"y":{"datum":-0.747,"type":"quantitative"},"text":{"field":"mut"}}}
]},
"config":{
 "view":{"stroke":null},
 "font":"Liberation Sans",
 "header":{"labels":false,"title":null,"labelExpr":"''","labelPadding":0,"labelFontSize":1},
 "axis":{"domainColor":"black","domainWidth":4,"domainCap":"square","tickColor":"black","tickWidth":3.5,"tickSize":18,"labelFont":"Liberation Sans","labelFontWeight":"bold","labelFontSize":18,"labelColor":"black","labelPadding":4,"titleFont":"Liberation Sans","titleFontWeight":"bold","titleFontSize":25,"titleColor":"black","grid":false,"zindex":1}
}
}
